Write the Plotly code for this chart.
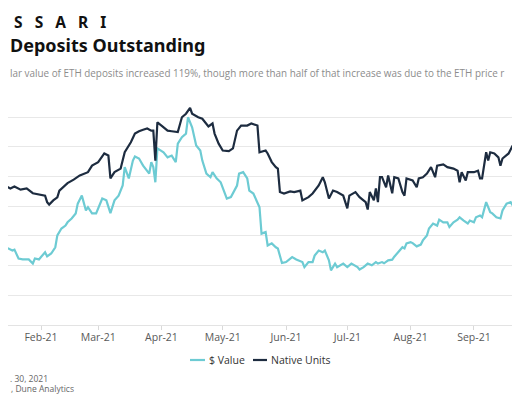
import plotly.graph_objects as go

# ---- data (y in grid units) ----
native_dates = ["2021-01-12","2021-01-13","2021-01-14","2021-01-15","2021-01-17","2021-01-19","2021-01-22","2021-01-25","2021-01-28","2021-02-01",
"2021-02-03","2021-02-04","2021-02-05","2021-02-07","2021-02-09","2021-02-10","2021-02-14","2021-02-17","2021-02-20","2021-02-24",
"2021-02-26","2021-03-01","2021-03-04","2021-03-06","2021-03-07","2021-03-09","2021-03-12","2021-03-14","2021-03-17","2021-03-19",
"2021-03-21","2021-03-23","2021-03-25","2021-03-27","2021-03-28","2021-03-29","2021-03-30","2021-04-01","2021-04-04","2021-04-06",
"2021-04-09","2021-04-11","2021-04-13","2021-04-15","2021-04-16","2021-04-19","2021-04-21","2021-04-24","2021-04-26","2021-04-27",
"2021-04-29","2021-05-01","2021-05-04","2021-05-06","2021-05-08","2021-05-10","2021-05-13","2021-05-15","2021-05-18","2021-05-19",
"2021-05-22","2021-05-23","2021-05-25","2021-05-27","2021-05-28","2021-05-29","2021-05-31","2021-06-03","2021-06-05","2021-06-08",
"2021-06-09","2021-06-12","2021-06-14","2021-06-17","2021-06-19","2021-06-20","2021-06-22","2021-06-24","2021-06-26","2021-06-29",
"2021-07-01","2021-07-02","2021-07-05","2021-07-07","2021-07-10","2021-07-11","2021-07-12","2021-07-14","2021-07-15","2021-07-16",
"2021-07-17","2021-07-18","2021-07-20","2021-07-21","2021-07-23","2021-07-24","2021-07-26","2021-07-28","2021-07-29","2021-07-30",
"2021-08-02","2021-08-04","2021-08-05","2021-08-07","2021-08-09","2021-08-11","2021-08-13","2021-08-14","2021-08-17","2021-08-19",
"2021-08-22","2021-08-24","2021-08-25","2021-08-26","2021-08-28","2021-08-29","2021-09-01","2021-09-03","2021-09-04","2021-09-05",
"2021-09-07","2021-09-08","2021-09-09","2021-09-11","2021-09-13","2021-09-14","2021-09-15","2021-09-18","2021-09-20","2021-09-21",
"2021-09-23","2021-09-24"]
native_vals = [3.80,3.86,4.60,4.67,4.60,4.67,4.56,4.60,4.44,4.40,
4.36,4.14,4.06,4.20,4.30,4.53,4.78,4.90,5.04,5.15,
5.37,5.49,5.78,5.71,4.94,5.15,5.27,5.82,6.16,6.45,
6.53,6.58,6.62,6.55,6.55,5.54,6.83,6.72,6.55,6.53,
6.50,7.00,7.12,7.32,7.12,7.00,6.95,6.69,6.79,6.45,
6.11,5.88,5.86,5.95,6.55,6.72,6.72,6.79,6.72,5.82,
5.88,5.78,5.49,5.32,5.27,4.48,4.43,4.50,4.48,4.53,
4.20,4.31,4.43,4.70,4.98,4.81,4.26,4.53,4.48,4.36,
3.93,4.36,4.48,4.31,4.14,3.89,4.48,4.20,4.60,4.14,
4.98,4.98,4.64,5.04,4.44,4.98,4.94,4.48,4.36,4.94,
4.87,4.64,4.94,4.98,5.10,5.32,4.98,5.37,5.41,5.32,
5.27,5.20,4.81,5.15,4.87,5.15,5.15,5.20,4.94,4.94,
5.82,5.54,5.82,5.78,5.65,5.37,5.61,5.78,6.05,5.88,
6.12,6.19]

usd_dates = ["2021-01-12","2021-01-13","2021-01-14","2021-01-16","2021-01-18","2021-01-19","2021-01-21","2021-01-23","2021-01-26","2021-01-28",
"2021-01-29","2021-01-31","2021-02-01","2021-02-03","2021-02-04","2021-02-06","2021-02-08","2021-02-09","2021-02-11","2021-02-13",
"2021-02-14","2021-02-16","2021-02-18","2021-02-19","2021-02-21","2021-02-23","2021-02-24","2021-02-26","2021-02-28","2021-03-02",
"2021-03-03","2021-03-05","2021-03-07","2021-03-09","2021-03-11","2021-03-13","2021-03-14","2021-03-16","2021-03-18","2021-03-19",
"2021-03-21","2021-03-23","2021-03-25","2021-03-26","2021-03-27","2021-03-28","2021-03-29","2021-03-30","2021-04-02","2021-04-04",
"2021-04-06","2021-04-08","2021-04-09","2021-04-11","2021-04-13","2021-04-14","2021-04-16","2021-04-18","2021-04-20","2021-04-21",
"2021-04-23","2021-04-25","2021-04-26","2021-04-28","2021-04-30","2021-05-01","2021-05-03","2021-05-05","2021-05-06","2021-05-08",
"2021-05-09","2021-05-11","2021-05-13","2021-05-14","2021-05-16","2021-05-18","2021-05-19","2021-05-20","2021-05-22","2021-05-23",
"2021-05-25","2021-05-27","2021-05-28","2021-05-30","2021-06-01","2021-06-04","2021-06-06","2021-06-09","2021-06-10","2021-06-12",
"2021-06-14","2021-06-15","2021-06-17","2021-06-19","2021-06-20","2021-06-22","2021-06-23","2021-06-25","2021-06-26","2021-06-29",
"2021-07-01","2021-07-03","2021-07-06","2021-07-07","2021-07-09","2021-07-11","2021-07-13","2021-07-15","2021-07-16","2021-07-18",
"2021-07-19","2021-07-21","2021-07-23","2021-07-24","2021-07-26","2021-07-28","2021-07-29","2021-07-30","2021-08-01","2021-08-02",
"2021-08-04","2021-08-06","2021-08-07","2021-08-09","2021-08-10","2021-08-12","2021-08-14","2021-08-15","2021-08-17","2021-08-19",
"2021-08-20","2021-08-22","2021-08-24","2021-08-25","2021-08-27","2021-08-29","2021-08-30","2021-09-01","2021-09-02","2021-09-04",
"2021-09-05","2021-09-07","2021-09-09","2021-09-10","2021-09-12","2021-09-14","2021-09-15","2021-09-17","2021-09-19","2021-09-20",
"2021-09-22","2021-09-24"]
usd_vals = [2.00,2.07,2.62,2.58,2.51,2.54,2.24,2.21,2.21,2.07,
2.24,2.21,2.29,2.45,2.31,2.41,2.62,3.02,3.25,3.35,
3.46,3.59,3.76,4.09,4.36,3.86,3.97,3.76,3.76,4.09,
4.26,4.20,3.77,4.20,4.36,4.70,5.32,4.94,5.54,5.68,
5.61,5.37,5.20,5.10,5.49,5.32,4.81,5.95,5.82,5.65,
5.71,5.49,6.11,6.33,6.45,7.00,6.66,6.05,5.88,5.54,
5.10,4.98,5.15,4.94,4.81,4.64,4.26,4.31,4.43,4.70,
5.10,5.15,4.94,4.53,4.43,4.09,3.97,3.08,3.13,2.68,
2.75,2.62,2.58,2.09,2.12,2.29,2.21,2.12,1.95,2.12,
2.12,2.34,2.51,2.45,2.51,2.18,1.84,2.07,1.95,2.07,
1.95,2.07,1.95,1.87,1.95,2.07,2.01,2.12,2.07,2.12,
2.08,2.18,2.20,2.30,2.45,2.62,2.58,2.75,2.79,2.76,
2.65,2.71,2.85,3.02,3.25,3.42,3.35,3.55,3.46,3.46,
3.30,3.46,3.55,3.63,3.52,3.42,3.52,3.46,3.63,3.69,
3.63,4.14,3.80,3.76,3.63,3.59,3.86,4.09,4.14,4.03,
3.69,3.80]

series_names = ["$ Value", "Native Units"]
series_colors = ["#6dcbd3", "#1d2c40"]

# The page shows the figure offset by the default 8px body margin,
# so layout positions below are given in window pixels minus that offset.
OFF = 8
W, H = 520, 400
ML, MR, MT, MB = 0, 0, 79, 83
PW = W - ML - MR
PH = H - MT - MB

def px_x(sx):
    return (sx - OFF - ML) / PW

def px_y(sy):
    return (H - MB - (sy - OFF)) / PH

fig = go.Figure()
fig.add_trace(go.Scatter(x=usd_dates, y=usd_vals, mode="lines", name=series_names[0],
                         line=dict(color=series_colors[0], width=2.2), showlegend=False))
fig.add_trace(go.Scatter(x=native_dates, y=native_vals, mode="lines", name=series_names[1],
                         line=dict(color=series_colors[1], width=2.2), showlegend=False))

gray_font = dict(family="Open Sans", size=10.5, color="#595959")
legend_font = dict(family="Open Sans", size=10.5, color="#333333")

# compact legend keys (short line + label), as in the original
legend_keys = [(190, 205, 207), (253, 267, 269)]
shapes = []
legend_ann = []
for (x0, x1, tx), name, col in zip(legend_keys, series_names, series_colors):
    shapes.append(dict(type="line", xref="paper", yref="paper",
                       x0=px_x(x0), x1=px_x(x1), y0=px_y(360), y1=px_y(360),
                       line=dict(color=col, width=2.2)))
    legend_ann.append(dict(text=name, xref="paper", yref="paper", x=px_x(tx), y=px_y(360),
                           xanchor="left", yanchor="middle", showarrow=False, font=legend_font))

fig.update_layout(
    width=W, height=H,
    margin=dict(l=ML, r=MR, t=MT, b=MB, pad=0, autoexpand=False),
    paper_bgcolor="white", plot_bgcolor="white",
    showlegend=False,
    xaxis=dict(type="date", range=["2021-01-15 20:10", "2021-09-27 11:45"],
               tick0="2021-01-01", dtick="M1", tickformat="%b-%y",
               ticks="outside", ticklen=4, tickcolor="#d9d9d9", automargin=False,
               ticklabelstandoff=-2,
               showgrid=False, showline=True, linecolor="#e3e3e3", linewidth=1,
               tickfont=gray_font, zeroline=False),
    yaxis=dict(range=[0, 8.02], dtick=1, showticklabels=False, showgrid=True, automargin=False,
               gridcolor="#e8e8e8", gridwidth=1, zeroline=False, showline=False),
    shapes=shapes,
    annotations=[
        dict(text="<b>S\u00a0\u00a0\u00a0S\u00a0\u00a0\u00a0A\u00a0\u00a0\u00a0R\u00a0\u00a0\u00a0I</b>",
             xref="paper", yref="paper", x=px_x(12), y=px_y(22), xanchor="left", yanchor="middle",
             showarrow=False, font=dict(family="Noto Sans", size=15.5, color="#111111")),
        dict(text="<b>Deposits Outstanding</b>", xref="paper", yref="paper",
             x=px_x(8), y=px_y(45), xanchor="left", yanchor="middle", showarrow=False,
             font=dict(family="Noto Sans", size=18, color="#111111")),
        dict(text="lar value of ETH deposits increased 119%, though more than half of that increase was due to the ETH price r",
             xref="paper", yref="paper", x=px_x(8), y=px_y(73), xanchor="left", yanchor="middle",
             showarrow=False, font=dict(family="Open Sans", size=9.9, color="#8c8c8c")),
        dict(text=". 30, 2021", xref="paper", yref="paper", x=px_x(8), y=px_y(378),
             xanchor="left", yanchor="middle", showarrow=False,
             font=dict(family="Open Sans", size=8.5, color="#666666")),
        dict(text=", Dune Analytics", xref="paper", yref="paper", x=px_x(9), y=px_y(388),
             xanchor="left", yanchor="middle", showarrow=False,
             font=dict(family="Open Sans", size=8.5, color="#666666")),
    ] + legend_ann,
)

fig.write_html("out.html")
